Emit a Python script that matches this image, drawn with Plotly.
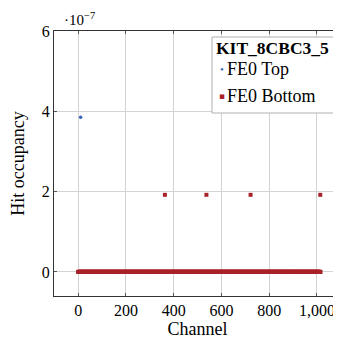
import plotly.graph_objects as go

# ---- data ----
channels = list(range(0, 1016))
fe0_top_nonzero = {10: 3.85e-7}
fe0_bottom_nonzero = {363: 1.92e-7, 537: 1.92e-7, 722: 1.92e-7, 1014: 1.92e-7}
fe0_top = [fe0_top_nonzero.get(c, 0.0) for c in channels]
fe0_bottom = [fe0_bottom_nonzero.get(c, 0.0) for c in channels]

x_tickvals = [0, 200, 400, 600, 800, 1000]
x_ticktext = ["0", "200", "400", "600", "800", "1,000"]
y_tickvals = [0, 2e-7, 4e-7, 6e-7]
y_ticktext = ["0", "2", "4", "6"]

legend_title = "KIT_8CBC3_5"
series_names = ["FE0 Top", "FE0 Bottom"]
BLUE = "#3b64b8"
RED = "#a8232b"
FONT = "Liberation Serif"

# page body has an 8px margin; compensate so the plot lands where the reference has it
OFF = 8
W, H = 341 - OFF, 342 - OFF
ML, MR, MT, MB = 54 - OFF, 0, 31 - OFF, 46
PW, PH = W - ML - MR, H - MT - MB


def px(xp):
    return (xp - OFF - ML) / PW


def py(yp):
    return (H - MB - (yp - OFF)) / PH


fig = go.Figure()
fig.add_trace(go.Scatter(x=channels, y=fe0_top, mode="markers", name=series_names[0],
                         marker=dict(symbol="circle", size=3.5, color=BLUE, line=dict(width=0)),
                         showlegend=False, cliponaxis=True))
fig.add_trace(go.Scatter(x=channels, y=fe0_bottom, mode="markers", name=series_names[1],
                         marker=dict(symbol="square", size=4, color=RED, line=dict(width=0)),
                         showlegend=False, cliponaxis=True))

# manual legend box
fig.add_shape(type="rect", xref="paper", yref="paper",
              x0=px(212), x1=px(338), y0=py(113), y1=py(37),
              line=dict(color="#b0b0b0", width=1), fillcolor="white", layer="above")
fig.add_annotation(xref="paper", yref="paper", x=px(272), y=py(48), text="<b>" + legend_title + "</b>",
                   showarrow=False, xanchor="center", yanchor="middle",
                   font=dict(family=FONT, size=17.5, color="black"))
fig.add_annotation(xref="paper", yref="paper", x=px(221.5), y=py(69), text="•",
                   showarrow=False, xanchor="center", yanchor="middle",
                   font=dict(family=FONT, size=11, color=BLUE))
fig.add_annotation(xref="paper", yref="paper", x=px(225), y=py(69), text=series_names[0],
                   showarrow=False, xanchor="left", yanchor="middle",
                   font=dict(family=FONT, size=18, color="black"))
fig.add_annotation(xref="paper", yref="paper", x=px(221.5), y=py(96), text="▪",
                   showarrow=False, xanchor="center", yanchor="middle",
                   font=dict(family="DejaVu Sans", size=9, color=RED))
fig.add_annotation(xref="paper", yref="paper", x=px(225), y=py(96), text=series_names[1],
                   showarrow=False, xanchor="left", yanchor="middle",
                   font=dict(family=FONT, size=18, color="black"))

# exponent marker
fig.add_annotation(xref="paper", yref="paper", x=px(79), y=py(19), text="·10<sup>−7</sup>",
                   showarrow=False, xanchor="center", yanchor="middle",
                   font=dict(family=FONT, size=15, color="black"))

fig.update_layout(
    width=W, height=H, margin=dict(l=ML, r=MR, t=MT, b=MB, pad=0, autoexpand=False),
    paper_bgcolor="white", plot_bgcolor="white",
    font=dict(family=FONT, size=16, color="black"),
    showlegend=False,
)
fig.update_xaxes(range=[-101.5, -101.5 + PW / 0.2387], tickvals=x_tickvals, ticktext=x_ticktext,
                 showgrid=True, gridcolor="#d3d3d3", gridwidth=1, zeroline=False,
                 showline=True, linecolor="#333333", linewidth=1.2, mirror="ticks",
                 ticks="inside", ticklen=3, tickcolor="#555555", automargin=False,
                 title=dict(text="Channel", font=dict(family=FONT, size=18), standoff=4),
                 tickfont=dict(family=FONT, size=16))
fig.update_yaxes(range=[-0.6e-7, 6e-7], tickvals=y_tickvals, ticktext=y_ticktext,
                 showgrid=True, gridcolor="#d3d3d3", gridwidth=1, zeroline=False,
                 showline=True, linecolor="#333333", linewidth=1.2, mirror=False,
                 ticks="inside", ticklen=3, tickcolor="#555555", automargin=False,
                 title=dict(text="Hit occupancy", font=dict(family=FONT, size=18), standoff=13),
                 tickfont=dict(family=FONT, size=16))

fig.write_html("out.html")
